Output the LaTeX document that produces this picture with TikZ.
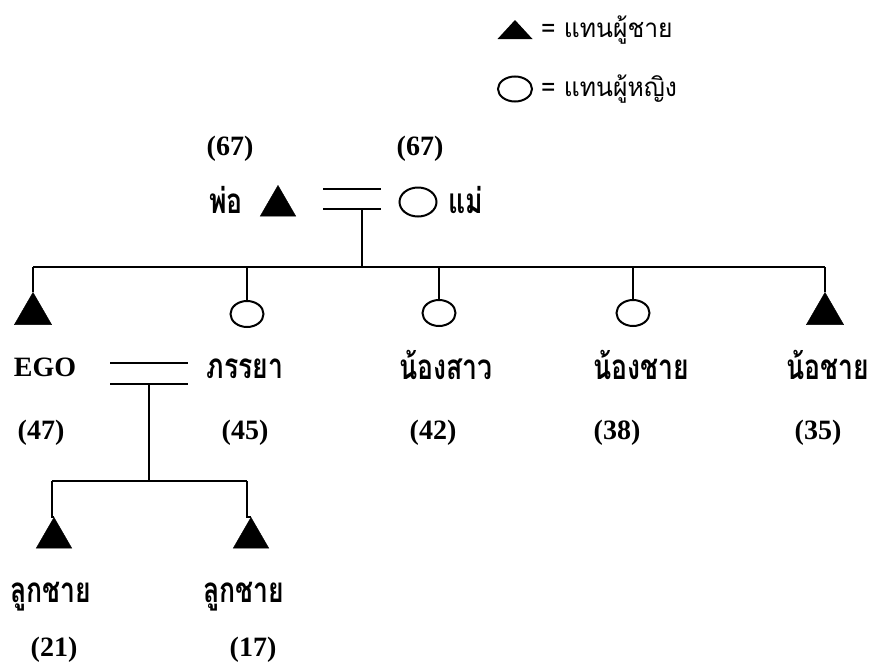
\documentclass[tikz,border=0pt]{standalone}
\usepackage{fontspec}
\usepackage{graphicx}
\setmainfont{Liberation Serif}
\newfontfamily\thaifont[Script=Thai]{Loma}
\newcommand\thaic[1]{\scalebox{0.76}[1]{#1}}
\newcommand\thaileg[1]{\scalebox{0.95}[1]{#1}}
\usetikzlibrary{shapes.geometric}
\begin{document}
\begin{tikzpicture}[x=1pt,y=-1pt,
  male/.style={regular polygon,regular polygon sides=3,fill=black,draw=black,minimum size=41pt,inner sep=0pt,anchor=corner 1},
  female/.style={ellipse,draw=black,line width=2pt,minimum width=33pt,minimum height=26pt,inner sep=0pt},
  num/.style={font=\fontsize{28}{28}\selectfont\bfseries,inner sep=0pt},
  lbl/.style={font=\thaifont\fontsize{35}{35}\selectfont\bfseries,inner sep=0pt,anchor=base},
  leg/.style={font=\thaifont\fontsize{26}{26}\selectfont,inner sep=0pt,anchor=west},
  lin/.style={line width=1.6pt}]
\useasboundingbox (0,0) rectangle (878,664);
% legend
\coordinate (legm) at (515,39);
\fill (legm) ++(-17.5,0) -- ++(17.5,-19) -- ++(17.5,19) -- cycle;
\node[leg] (legmt) at (541,30) {\thaileg{= แทนผู้ชาย}};
\node[female,minimum width=34pt,minimum height=25pt] (legf) at (515,89) {};
\node[leg] (legft) at (541,89) {\thaileg{= แทนผู้หญิง}};
% parents
\node[num] (agef) at (230,149) {(67)};
\node[num] (agem) at (420,149) {(67)};
\node[lbl] (fatherl) at (226,213) {\thaic{พ่อ}};
\node[male,minimum size=41pt] (father) at (278,185) {};
\node[female,minimum width=37pt,minimum height=29pt] (mother) at (418,202) {};
\node[lbl,anchor=base west] (motherl) at (448,213) {\thaic{แม่}};
\coordinate (pm1a) at (323,189); \coordinate (pm1b) at (381,189);
\coordinate (pm2a) at (323,209); \coordinate (pm2b) at (381,209);
\coordinate (pmid) at (362,209);
\draw[lin] (pm1a) -- (pm1b);
\draw[lin] (pm2a) -- (pm2b);
% sibling bar
\coordinate (sibL) at (33,267); \coordinate (sibR) at (825,267);
\draw[lin] (pmid) -- (pmid |- sibL);
\draw[lin] (sibL) -- (sibR);
% generation 2
\node[male,minimum size=43pt] (ego) at (33,292) {};
\node[female] (wife) at (247,314) {};
\node[female] (sis) at (439,313) {};
\node[female] (bro1) at (633,313) {};
\node[male,minimum size=43pt] (bro2) at (825,292) {};
\draw[lin] (sibL) -- (ego.corner 1);
\draw[lin] (wife.north |- sibL) -- (wife.north);
\draw[lin] (sis.north |- sibL) -- (sis.north);
\draw[lin] (bro1.north |- sibL) -- (bro1.north);
\draw[lin] (sibR) -- (bro2.corner 1);
\node[num] (egol) at (45,367) {EGO};
\node[lbl] (wifel) at (245,378) {\thaic{ภรรยา}};
\node[lbl] (sisl) at (446,379) {\thaic{น้องสาว}};
\node[lbl] (bro1l) at (641,379) {\thaic{น้องชาย}};
\node[lbl] (bro2l) at (828,379) {\thaic{น้อชาย}};
\node[num] (egoa) at (41,433) {(47)};
\node[num] (wifea) at (245,433) {(45)};
\node[num] (sisa) at (433,433) {(42)};
\node[num] (bro1a) at (617,433) {(38)};
\node[num] (bro2a) at (818,433) {(35)};
% EGO marriage
\coordinate (em1a) at (110,363); \coordinate (em1b) at (188,363);
\coordinate (em2a) at (110,384); \coordinate (em2b) at (188,384);
\coordinate (emid) at (149,384);
\draw[lin] (em1a) -- (em1b);
\draw[lin] (em2a) -- (em2b);
\coordinate (chL) at (52,481); \coordinate (chR) at (247,481);
\draw[lin] (emid) -- (emid |- chL);
\draw[lin] (chL) -- (chR);
% children
\node[male] (son1) at (54,517) {};
\node[male] (son2) at (251,517) {};
\draw[lin] (chL) -- (chL |- son1.corner 1) -- (son1.corner 1);
\draw[lin] (chR) -- (chR |- son2.corner 1) -- (son2.corner 1);
\node[lbl] (son1l) at (51,602) {\thaic{ลูกชาย}};
\node[lbl] (son2l) at (244,602) {\thaic{ลูกชาย}};
\node[num] (son1a) at (54,650) {(21)};
\node[num] (son2a) at (253,650) {(17)};
\end{tikzpicture}
\end{document}
